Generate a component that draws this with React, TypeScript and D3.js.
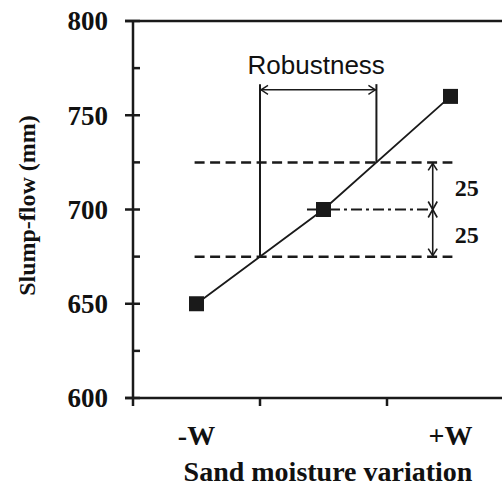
import React from 'react';
import * as d3 from 'd3';

// Slump-flow measured at three sand moisture levels
const xPositions = [1, 3, 5];
const slumpFlow = [650, 700, 760];
const xTickLabels = ['-W', '+W'];
const xTickLabelPos = [1, 5];
const xMinorTicks = [2, 4];
const yTicks = [600, 650, 700, 750, 800];
const yMinorTicks = [625, 675, 725, 775];
const target = 700;
const tolerance = 25;

const W = 502;
const H = 487;

const serif = '"Liberation Serif", "Times New Roman", Times, serif';
const sans = '"Liberation Sans", Arial, Helvetica, sans-serif';

export default function App() {
  const x = d3.scaleLinear().domain([0, 369 / 63.5]).range([133, 502]);
  const y = d3.scaleLinear().domain([600, 800]).range([398, 21]);

  const pts = xPositions.map((p, i) => [p, slumpFlow[i]] as [number, number]);
  const line = d3.line<[number, number]>().x(d => x(d[0])).y(d => y(d[1]));

  // position along the trend where slump-flow reaches a given value
  const crossAt = (v: number) => {
    for (let i = 0; i < pts.length - 1; i++) {
      const [x0, y0] = pts[i];
      const [x1, y1] = pts[i + 1];
      if ((v - y0) * (v - y1) <= 0) {
        return d3.scaleLinear().domain([y0, y1]).range([x0, x1])(v);
      }
    }
    return pts[0][0];
  };

  const lo = target - tolerance;
  const hi = target + tolerance;
  const xLo = x(crossAt(lo));
  const xHi = x(crossAt(hi));

  const dimX = x(4.72);
  const robY = y(763.5);
  const robTop = y(766.5);
  const ah = 8;
  const aw = 4.5;
  const sq = 15;
  const stroke = '#1a1a1a';

  return (
    <svg width={W} height={H} style={{ position: 'absolute', left: 0, top: 0, background: '#fff' }}>
      {/* axes */}
      <line x1={125} x2={W} y1={y(800)} y2={y(800)} stroke={stroke} strokeWidth={2.5} />
      <line x1={125} x2={W} y1={y(600)} y2={y(600)} stroke={stroke} strokeWidth={2.5} />
      <line x1={x(0)} x2={x(0)} y1={y(800)} y2={y(600) + 8} stroke={stroke} strokeWidth={2.5} />
      {yTicks.map(t => (
        <g key={t}>
          <line x1={125} x2={140} y1={y(t)} y2={y(t)} stroke={stroke} strokeWidth={2.5} />
          <text x={108} y={y(t)} dy="0.35em" textAnchor="end" fontFamily={serif} fontWeight="bold" fontSize={27} fill="#111">
            {t}
          </text>
        </g>
      ))}
      {yMinorTicks.map(t => (
        <line key={t} x1={x(0)} x2={140} y1={y(t)} y2={y(t)} stroke={stroke} strokeWidth={2.5} />
      ))}
      {xMinorTicks.map(t => (
        <line key={t} x1={x(t)} x2={x(t)} y1={y(600)} y2={y(600) + 8} stroke={stroke} strokeWidth={2.5} />
      ))}
      {xTickLabels.map((l, i) => (
        <text key={l} x={x(xTickLabelPos[i])} y={445} textAnchor="middle" fontFamily={serif} fontWeight="bold" fontSize={28} fill="#111">
          {l}
        </text>
      ))}
      <text x={328} y={481} textAnchor="middle" fontFamily={serif} fontWeight="bold" fontSize={28} fill="#111">
        Sand moisture variation
      </text>
      <text
        transform={`translate(35, ${y(700) - 4}) rotate(-90)`}
        textAnchor="middle"
        fontFamily={serif}
        fontWeight="bold"
        fontSize={24}
        fill="#111"
      >
        Slump-flow (mm)
      </text>

      {/* tolerance band */}
      {[lo, hi].map(v => (
        <line key={v} x1={x(0.97)} x2={x(5.03)} y1={y(v)} y2={y(v)} stroke={stroke} strokeWidth={2.5} strokeDasharray="10,5.5" />
      ))}
      <line x1={x(2.74)} x2={dimX} y1={y(target)} y2={y(target)} stroke={stroke} strokeWidth={1.8} strokeDasharray="11,4,3,4" />

      {/* robustness range */}
      <line x1={xLo} x2={xLo} y1={robTop} y2={y(lo)} stroke={stroke} strokeWidth={2} />
      <line x1={xHi} x2={xHi} y1={robTop} y2={y(hi)} stroke={stroke} strokeWidth={2} />
      <line x1={xLo} x2={xHi} y1={robY} y2={robY} stroke={stroke} strokeWidth={1.4} />
      <path
        d={`M${xLo + ah},${robY - aw}L${xLo + 1},${robY}L${xLo + ah},${robY + aw}M${xHi - ah},${robY - aw}L${xHi - 1},${robY}L${xHi - ah},${robY + aw}`}
        fill="none"
        stroke={stroke}
        strokeWidth={1.4}
      />
      <text x={(xLo + xHi) / 2 - 2} y={74} textAnchor="middle" fontFamily={sans} fontSize={26} fill="#111">
        Robustness
      </text>

      {/* tolerance dimension arrows */}
      <line x1={dimX} x2={dimX} y1={y(hi)} y2={y(lo)} stroke={stroke} strokeWidth={1.6} />
      <path
        d={[
          `M${dimX - aw},${y(hi) + ah}L${dimX},${y(hi) + 1}L${dimX + aw},${y(hi) + ah}`,
          `M${dimX - aw},${y(target) - ah}L${dimX},${y(target)}L${dimX + aw},${y(target) - ah}`,
          `M${dimX - aw},${y(target) + ah}L${dimX},${y(target)}L${dimX + aw},${y(target) + ah}`,
          `M${dimX - aw},${y(lo) - ah}L${dimX},${y(lo) - 1}L${dimX + aw},${y(lo) - ah}`,
        ].join('')}
        fill="none"
        stroke={stroke}
        strokeWidth={1.6}
      />
      <text x={dimX + 34} y={(y(hi) + y(target)) / 2 + 2} dy="0.35em" textAnchor="middle" fontFamily={serif} fontWeight="bold" fontSize={24} fill="#111">
        {tolerance}
      </text>
      <text x={dimX + 34} y={(y(lo) + y(target)) / 2 + 2} dy="0.35em" textAnchor="middle" fontFamily={serif} fontWeight="bold" fontSize={24} fill="#111">
        {tolerance}
      </text>

      {/* trend line and measurements */}
      <path d={line(pts) || ''} fill="none" stroke={stroke} strokeWidth={1.8} />
      {pts.map(([px, py], i) => (
        <rect key={i} x={x(px) - sq / 2} y={y(py) - sq / 2} width={sq} height={sq} fill="#1a1a1a" />
      ))}
    </svg>
  );
}
